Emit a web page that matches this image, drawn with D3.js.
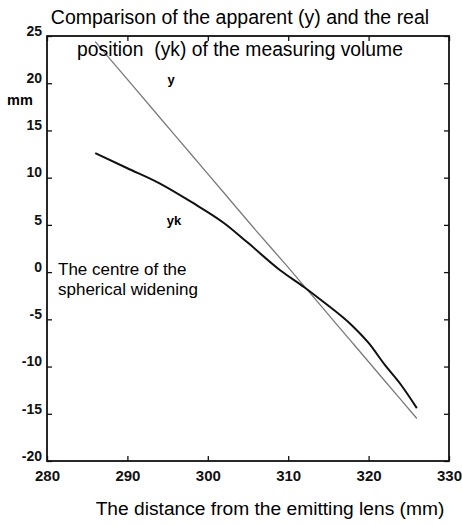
<!DOCTYPE html>
<html>
<head>
<meta charset="utf-8">
<script src="https://cdn.jsdelivr.net/npm/d3@7"></script>
<style>
  body { margin: 0; background: #fff; }
  svg { display: block; font-family: "Liberation Sans", Arial, sans-serif; }
  .domain { display: none; }
</style>
</head>
<body>
<script>
// ==================== Data ============================
// Apparent position (y), grey line
const yDist = [286, 290, 294, 298, 302, 306, 310, 314, 318, 322, 326];
const yApparent = [24.4, 20.4, 16.4, 12.4, 8.4, 4.4, 0.5, -3.5, -7.5, -11.5, -15.5];

// Real position (yk), black line
const ykDist = [286, 290, 294, 298, 302, 305, 309, 312, 314, 318, 320, 322, 324, 326];
const ykReal = [12.6, 11.0, 9.4, 7.4, 5.2, 3.1, 0.2, -1.6, -2.9, -5.7, -7.5, -9.8, -11.9, -14.4];

const xTicks = [280, 290, 300, 310, 320, 330];
const yTicks = [-20, -15, -10, -5, 0, 5, 10, 15, 20, 25];

// ==================== Set up Variables ============================
const W = 462, H = 525;
const margin = {top: 36, right: 13, bottom: 64, left: 47},
      width = W - margin.left - margin.right,
      height = H - margin.top - margin.bottom;

const x = d3.scaleLinear().domain([280, 330]).range([0, width]);
const y = d3.scaleLinear().domain([-20, 25]).range([height, 0]);

// plain hyphen for negatives, like the original plot
const plainFmt = d => String(d);

const svg = d3.select('body')
  .append('svg')
    .attr('width', W)
    .attr('height', H);

const g = svg.append('g')
    .attr('transform', `translate(${margin.left}, ${margin.top})`);

// ==================== Axes (box with inward ticks) ============================
const tickLen = 5;

// bottom
g.append('g')
    .attr('transform', `translate(0, ${height})`)
    .call(d3.axisBottom(x).tickValues(xTicks).tickFormat(plainFmt)
        .tickSizeInner(-tickLen).tickSizeOuter(0).tickPadding(9))
    .call(a => a.selectAll('text')
        .attr('font-size', 15).attr('font-weight', 'bold').attr('fill', '#111'))
    .call(a => a.selectAll('line').attr('stroke', '#111').attr('stroke-width', 1.3));

// top
g.append('g')
    .call(d3.axisTop(x).tickValues(xTicks).tickSizeInner(-tickLen).tickSizeOuter(0).tickFormat(''))
    .call(a => a.selectAll('line').attr('stroke', '#111').attr('stroke-width', 1.3));

// left
g.append('g')
    .call(d3.axisLeft(y).tickValues(yTicks).tickFormat(plainFmt)
        .tickSizeInner(-tickLen).tickSizeOuter(0).tickPadding(5))
    .call(a => a.selectAll('text')
        .attr('font-size', 14).attr('font-weight', 'bold').attr('fill', '#111').attr('dy', '-0.05em'))
    .call(a => a.selectAll('line').attr('stroke', '#111').attr('stroke-width', 1.3));

// right
g.append('g')
    .attr('transform', `translate(${width}, 0)`)
    .call(d3.axisRight(y).tickValues(yTicks).tickSizeInner(-tickLen).tickSizeOuter(0).tickFormat(''))
    .call(a => a.selectAll('line').attr('stroke', '#111').attr('stroke-width', 1.3));

// frame
g.append('rect')
    .attr('width', width)
    .attr('height', height)
    .attr('fill', 'none')
    .attr('stroke', '#111')
    .attr('stroke-width', 1.8);

// ==================== Lines ============================
const line = d3.line()
    .curve(d3.curveMonotoneX)
    .x(d => x(d[0]))
    .y(d => y(d[1]));

g.append('path')
    .datum(d3.zip(yDist, yApparent))
    .attr('fill', 'none')
    .attr('stroke', '#7a7a7a')
    .attr('stroke-width', 1.3)
    .attr('d', line);

g.append('path')
    .datum(d3.zip(ykDist, ykReal))
    .attr('fill', 'none')
    .attr('stroke', '#111')
    .attr('stroke-width', 2)
    .attr('d', line);

// ==================== Text ============================
svg.append('text')
    .attr('x', 240).attr('y', 24)
    .attr('text-anchor', 'middle')
    .attr('font-size', 19.5)
    .text('Comparison of the apparent (y) and the real');

svg.append('text')
    .attr('x', 240).attr('y', 56)
    .attr('text-anchor', 'middle')
    .attr('font-size', 19.3)
    .attr('xml:space', 'preserve')
    .text('position  (yk) of the measuring volume');

svg.append('text')
    .attr('x', 270).attr('y', 515)
    .attr('text-anchor', 'middle')
    .attr('font-size', 19.2)
    .text('The distance from the emitting lens (mm)');

svg.append('text')
    .attr('x', 20).attr('y', 105)
    .attr('text-anchor', 'middle')
    .attr('font-size', 14.5)
    .attr('font-weight', 'bold')
    .text('mm');

svg.append('text')
    .attr('x', 171).attr('y', 84)
    .attr('text-anchor', 'middle')
    .attr('font-size', 13)
    .attr('font-weight', 'bold')
    .text('y');

svg.append('text')
    .attr('x', 174).attr('y', 225)
    .attr('text-anchor', 'middle')
    .attr('font-size', 13)
    .attr('font-weight', 'bold')
    .text('yk');

svg.append('text')
    .attr('x', 58).attr('y', 275)
    .attr('font-size', 17)
    .text('The centre of the');

svg.append('text')
    .attr('x', 58).attr('y', 295)
    .attr('font-size', 17)
    .text('spherical widening');
</script>
</body>
</html>
